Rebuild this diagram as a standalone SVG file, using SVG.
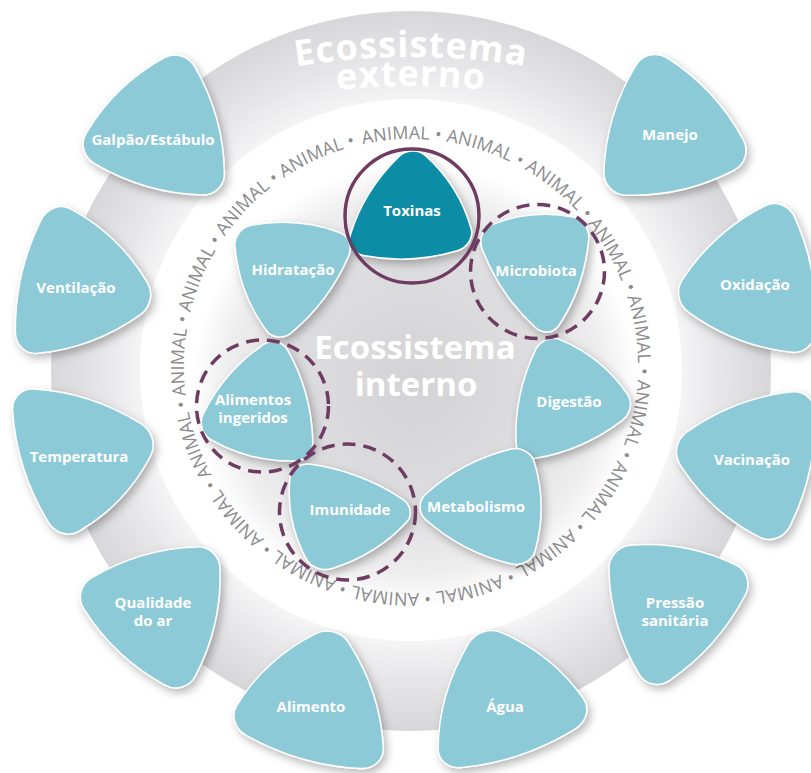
<svg xmlns="http://www.w3.org/2000/svg" xmlns:xlink="http://www.w3.org/1999/xlink" width="811" height="773" viewBox="0 0 811 773">
<defs>
<radialGradient id="ringG" gradientUnits="userSpaceOnUse" cx="411" cy="371" r="360">
<stop offset="0.74" stop-color="#f6f6f7"/><stop offset="0.86" stop-color="#e6e6e8"/><stop offset="1" stop-color="#d7d7d9"/>
</radialGradient>
<radialGradient id="innerG" gradientUnits="userSpaceOnUse" cx="415" cy="385" r="222">
<stop offset="0" stop-color="#d3d3d5"/><stop offset="0.55" stop-color="#dddddf"/><stop offset="0.85" stop-color="#eeeeef"/><stop offset="1" stop-color="#ffffff"/>
</radialGradient>
<filter id="sh" x="-30%" y="-30%" width="160%" height="160%">
<feDropShadow dx="3" dy="4" stdDeviation="4" flood-color="#000" flood-opacity="0.28"/>
</filter>
<path id="tri" vector-effect="non-scaling-stroke" d="M -0.1985 -0.9173 A 0.2796 0.2796 0 0 1 0.1985 -0.9173 A 2.7333 2.7333 0 0 1 0.8937 0.2868 A 0.2796 0.2796 0 0 1 0.6952 0.6306 A 2.7333 2.7333 0 0 1 -0.6952 0.6306 A 0.2796 0.2796 0 0 1 -0.8937 0.2868 A 2.7333 2.7333 0 0 1 -0.1985 -0.9173 Z"/>
<path id="ringPath" d="M 411 139 A 227 227 0 0 1 411 593 A 227 227 0 0 1 411 139 A 227 227 0 0 1 411 593 A 227 227 0 0 1 411 139"/>
<path id="arc1" d="M 211 86.2 A 700 700 0 0 1 611 86.2"/>
<path id="arc2" d="M 261 102.3 A 700 700 0 0 1 561 102.3"/>
</defs>
<style>
.lt{fill:#8dcad7;stroke:#ffffff;stroke-width:1.5}
.dk{fill:#0b8da5;stroke:#ffffff;stroke-width:1.5}
.t{font-family:"Open Sans","DejaVu Sans",sans-serif;font-weight:700;font-size:15px;fill:#ffffff;text-anchor:middle}
.an{font-family:"Open Sans","DejaVu Sans",sans-serif;font-size:18px;fill:#8b8b8d}
.ttl{font-family:"Open Sans","DejaVu Sans",sans-serif;font-weight:700;fill:#ffffff;text-anchor:middle}
.hl{fill:none;stroke:#6e3b62;stroke-width:3.5}
.dash{stroke-dasharray:13 8}
</style>
<rect width="811" height="773" fill="#ffffff"/>
<g id="background">
<circle cx="411" cy="371" r="360" fill="url(#ringG)"/>
<circle cx="411" cy="370" r="271" fill="#ffffff"/>
<circle cx="415" cy="385" r="222" fill="url(#innerG)"/>
</g>
<g id="title-externo">
<text class="ttl" font-size="36" letter-spacing="1"><textPath href="#arc1" startOffset="50%">Ecossistema</textPath></text>
<text class="ttl" font-size="36" letter-spacing="1"><textPath href="#arc2" startOffset="50%">externo</textPath></text>
</g>
<g id="animal-ring">
<text class="an" letter-spacing="0.07"><textPath href="#ringPath" startOffset="1377">ANIMAL • ANIMAL • ANIMAL • ANIMAL • ANIMAL • ANIMAL • ANIMAL • ANIMAL • ANIMAL • ANIMAL • ANIMAL • ANIMAL • ANIMAL • ANIMAL • ANIMAL • ANIMAL • ANIMAL •</textPath></text>
</g>
<g id="title-interno" class="ttl" font-size="33">
<text x="415" y="359">Ecossistema</text>
<text x="416" y="396">interno</text>
</g>
<g id="nodes-externo">
<g id="n-galpao"><g filter="url(#sh)"><use href="#tri" class="lt" transform="matrix(77.37 22.52 -20 75.67 161 131.67)"/></g><text class="t" x="153" y="145">Galpão/Estábulo</text></g>
<g id="n-manejo"><g filter="url(#sh)"><use href="#tri" class="lt" transform="matrix(77.94 -17.90 18.33 78.33 668.33 133.33)"/></g><text class="t" x="670" y="140">Manejo</text></g>
<g id="n-ventilacao"><g filter="url(#sh)"><use href="#tri" class="lt" transform="matrix(73.90 -27.71 21.33 77.33 75.33 285.33)"/></g><text class="t" x="76" y="293">Ventilação</text></g>
<g id="n-temperatura"><g filter="url(#sh)"><use href="#tri" class="lt" transform="matrix(51.96 -54.85 59.33 60.33 77.33 455.33)"/></g><text class="t" x="79" y="462">Temperatura</text></g>
<g id="n-qualidade"><g filter="url(#sh)"><use href="#tri" class="lt" transform="matrix(58.31 54.85 -54.33 57.67 158.67 610.67)"/></g><text class="t" x="153" y="608">Qualidade</text><text class="t" x="153" y="626">do ar</text></g>
<g id="n-alimento"><g filter="url(#sh)"><use href="#tri" class="lt" transform="matrix(81.99 23.67 -18.67 73.67 315.33 705.67)"/></g><text class="t" x="311" y="712">Alimento</text></g>
<g id="n-agua"><g filter="url(#sh)"><use href="#tri" class="lt" transform="matrix(81.41 -27.71 21.67 71.33 504.67 703.33)"/></g><text class="t" x="505" y="712">Água</text></g>
<g id="n-pressao"><g filter="url(#sh)"><use href="#tri" class="lt" transform="matrix(54.27 -61.20 56.67 52 671.67 605)"/></g><text class="t" x="675" y="608">Pressão</text><text class="t" x="675" y="626">sanitária</text></g>
<g id="n-vacinacao"><g filter="url(#sh)"><use href="#tri" class="lt" transform="matrix(57.74 52.54 -54 63.67 754 460.67)"/></g><text class="t" x="752" y="465">Vacinação</text></g>
<g id="n-oxidacao"><g filter="url(#sh)"><use href="#tri" class="lt" transform="matrix(74.48 28.87 -25.67 78 756.33 283)"/></g><text class="t" x="755" y="290">Oxidação</text></g>
</g>
<g id="nodes-interno">
<g id="n-toxinas"><g filter="url(#sh)"><use href="#tri" class="dk" transform="matrix(67.55 -3.46 -1 62.67 411 213.67)"/></g><text class="t" x="412" y="216">Toxinas</text></g>
<g id="n-hidratacao"><g filter="url(#sh)"><use href="#tri" class="lt" transform="matrix(40.99 -54.85 49.67 37.67 288.67 270.67)"/></g><text class="t" x="293" y="275">Hidratação</text></g>
<g id="n-microbiota"><g filter="url(#sh)"><use href="#tri" class="lt" transform="matrix(21.36 -61.78 56.33 29 538.33 264)"/></g><text class="t" x="536" y="276">Microbiota</text></g>
<g id="n-digestao"><g filter="url(#sh)"><use href="#tri" class="lt" transform="matrix(62.36 -27.14 20 61 566 401)"/></g><text class="t" x="569" y="407">Digestão</text></g>
<g id="n-alimentos"><g filter="url(#sh)"><use href="#tri" class="lt" transform="matrix(61.20 15.59 -14.67 66.33 262.33 408.33)"/></g><text class="t" x="253" y="405">Alimentos</text><text class="t" x="253" y="423">ingeridos</text></g>
<g id="n-imunidade"><g filter="url(#sh)"><use href="#tri" class="lt" transform="matrix(53.70 -33.49 44.33 48 341.33 515)"/></g><text class="t" x="350" y="515">Imunidade</text></g>
<g id="n-metabolismo"><g filter="url(#sh)"><use href="#tri" class="lt" transform="matrix(61.20 31.75 -34.67 55.67 490.33 506.67)"/></g><text class="t" x="476" y="512">Metabolismo</text></g>
</g>
<g id="connectors">
<circle class="hl" cx="412" cy="216" r="67"/>
<circle class="hl dash" cx="537.5" cy="271.5" r="67"/>
<circle class="hl dash" cx="262.5" cy="406" r="66"/>
<circle class="hl dash" cx="347.5" cy="512" r="68"/>
</g>
</svg>
